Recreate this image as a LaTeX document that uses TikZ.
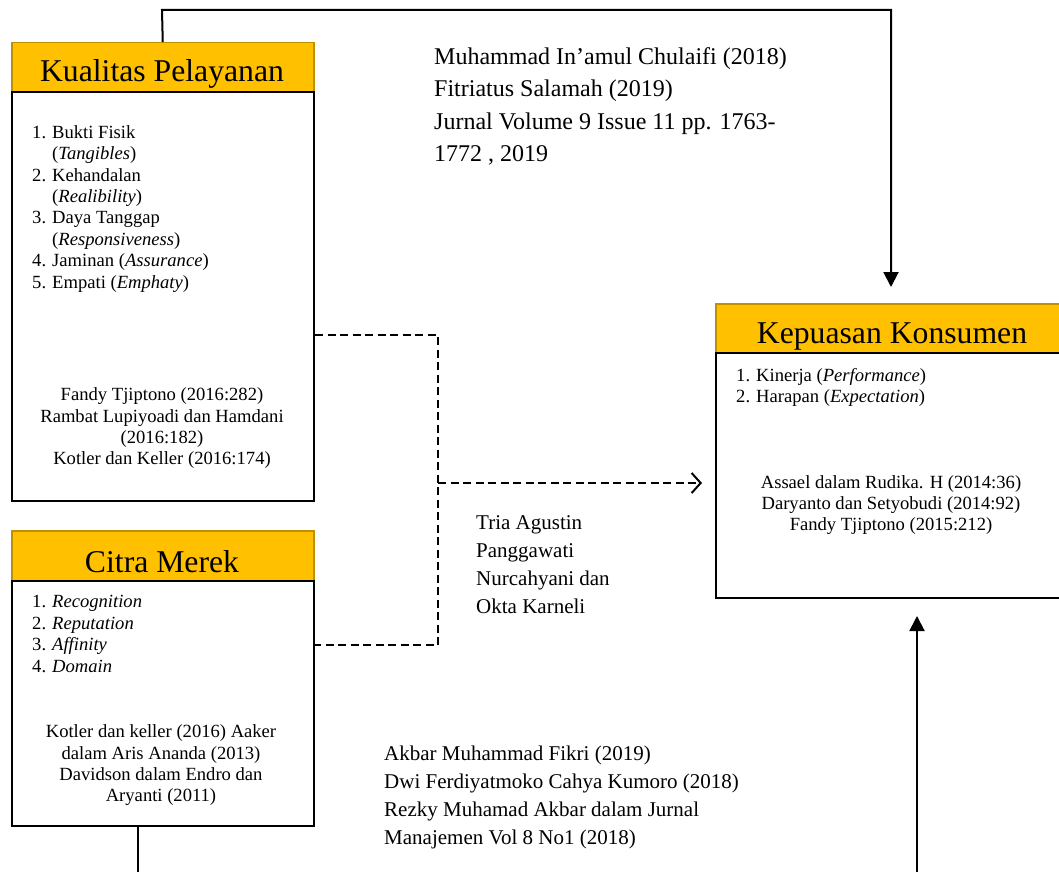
\documentclass[tikz,border=0pt]{standalone}
\usepackage{fontspec}
\setmainfont{Liberation Serif}
\usetikzlibrary{arrows.meta}
\definecolor{gold}{HTML}{FFC000}
\definecolor{golddark}{HTML}{BF9000}
\newcommand{\lnum}[1]{\makebox[20pt][l]{#1}}
\newcommand{\lind}{\hspace*{20pt}}
\begin{document}
\begin{tikzpicture}[x=1pt,y=-1pt,
  headbox/.style={rectangle, fill=gold, draw=golddark, line width=1.5pt, anchor=north west, inner sep=0},
  bodybox/.style={rectangle, fill=white, draw=black, line width=2pt, anchor=north west, inner sep=0},
  headtext/.style={font=\fontsize{31.7}{36}\selectfont, anchor=base, inner sep=0},
  listtext/.style={font=\fontsize{18.6}{21.4}\selectfont, align=left, anchor=base west, inner sep=0},
  citetext/.style={font=\fontsize{18.6}{21.2}\selectfont, align=center, anchor=base, inner sep=0},
  refbig/.style={font=\fontsize{24}{32.5}\selectfont, align=left, anchor=base west, inner sep=0},
  refsmall/.style={font=\fontsize{21}{28.2}\selectfont, align=left, anchor=base west, inner sep=0},
  conn/.style={draw=black, line width=2pt},
  dashconn/.style={draw=black, line width=2pt, dash pattern=on 8pt off 4.5pt},
  tri/.style={-{Triangle[length=15pt,width=15pt]}},
]
\useasboundingbox (0,0) rectangle (1059,872);

% Kualitas Pelayanan
\node[headbox, minimum width=302pt, minimum height=49pt] (kpHead) at (11,42) {};
\node[bodybox, minimum width=302pt, minimum height=409pt] (kpBody) at (11,91) {};
\node[headtext] (kpTitle) at (162,82) {Kualitas Pelayanan};
\node[listtext] (kpList) at (32,288) {\lnum{1.}Bukti Fisik\\
\lind(\textit{Tangibles})\\
\lnum{2.}Kehandalan\\
\lind(\textit{Realibility})\\
\lnum{3.}Daya Tanggap\\
\lind(\textit{Responsiveness})\\
\lnum{4.}Jaminan (\textit{Assurance})\\
\lnum{5.}Empati (\textit{Emphaty})};
\node[citetext] (kpCite) at (162,464.5) {Fandy Tjiptono (2016:282)\\Rambat Lupiyoadi dan Hamdani\\(2016:182)\\Kotler dan Keller (2016:174)};

% Citra Merek
\node[headbox, minimum width=302pt, minimum height=50pt] (cmHead) at (11,530) {};
\node[bodybox, minimum width=302pt, minimum height=245pt] (cmBody) at (11,580) {};
\node[headtext] (cmTitle) at (162,572) {Citra Merek};
\node[listtext] (cmList) at (32,672) {\lnum{1.}\textit{Recognition}\\
\lnum{2.}\textit{Reputation}\\
\lnum{3.}\textit{Affinity}\\
\lnum{4.}\textit{Domain}};
\node[citetext] (cmCite) at (161,801.5) {Kotler dan keller (2016) Aaker\\dalam Aris Ananda (2013)\\Davidson dalam Endro dan\\Aryanti (2011)};

% Kepuasan Konsumen
\node[headbox, minimum width=355pt, minimum height=49pt] (kkHead) at (715,303) {};
\node[bodybox, minimum width=355pt, minimum height=245pt] (kkBody) at (715,352) {};
\node[headtext] (kkTitle) at (892,343) {Kepuasan Konsumen};
\node[listtext] (kkList) at (736,402.4) {\lnum{1.}Kinerja (\textit{Performance})\\
\lnum{2.}Harapan (\textit{Expectation})};
\node[citetext] (kkCite) at (891,530.4) {Assael dalam Rudika. H (2014:36)\\Daryanto dan Setyobudi (2014:92)\\Fandy Tjiptono (2015:212)};

% reference texts
\node[refbig] (refTop) at (434,161.5) {Muhammad In’amul Chulaifi (2018)\\Fitriatus Salamah (2019)\\Jurnal Volume 9 Issue 11 pp. 1763-\\1772 , 2019};
\node[refsmall] (refMid) at (476,613.6) {Tria Agustin\\Panggawati\\Nurcahyani dan\\Okta Karneli};
\node[refsmall] (refBot) at (384,844.6) {Akbar Muhammad Fikri (2019)\\Dwi Ferdiyatmoko Cahya Kumoro (2018)\\Rezky Muhamad Akbar dalam Jurnal\\Manajemen Vol 8 No1 (2018)};

% connectors
\coordinate (topL) at (162,10);
\coordinate (topR) at (891,10);
\draw[conn, tri] (kpHead.north) -- (topL) -- (topR) -- ([yshift=16pt]kkHead.north -| topR);

\coordinate (botS) at (917,872);
\draw[conn, tri] (botS) -- ([yshift=-17pt]kkBody.south -| botS);

\coordinate (cmEnd) at (138,872);
\draw[conn] (cmBody.south -| cmEnd) -- (cmEnd);

\coordinate (d1) at (438,335);
\coordinate (d2) at (438,645);
\coordinate (dj) at (438,483);
\draw[dashconn] (kpBody.east |- d1) -- (d1) -- (d2) -- (cmBody.east |- d2);
\draw[dashconn, -{Straight Barb[length=9pt,width=20pt]}] (dj) -- ([xshift=-13pt]kkBody.west |- dj);
\end{tikzpicture}
\end{document}
